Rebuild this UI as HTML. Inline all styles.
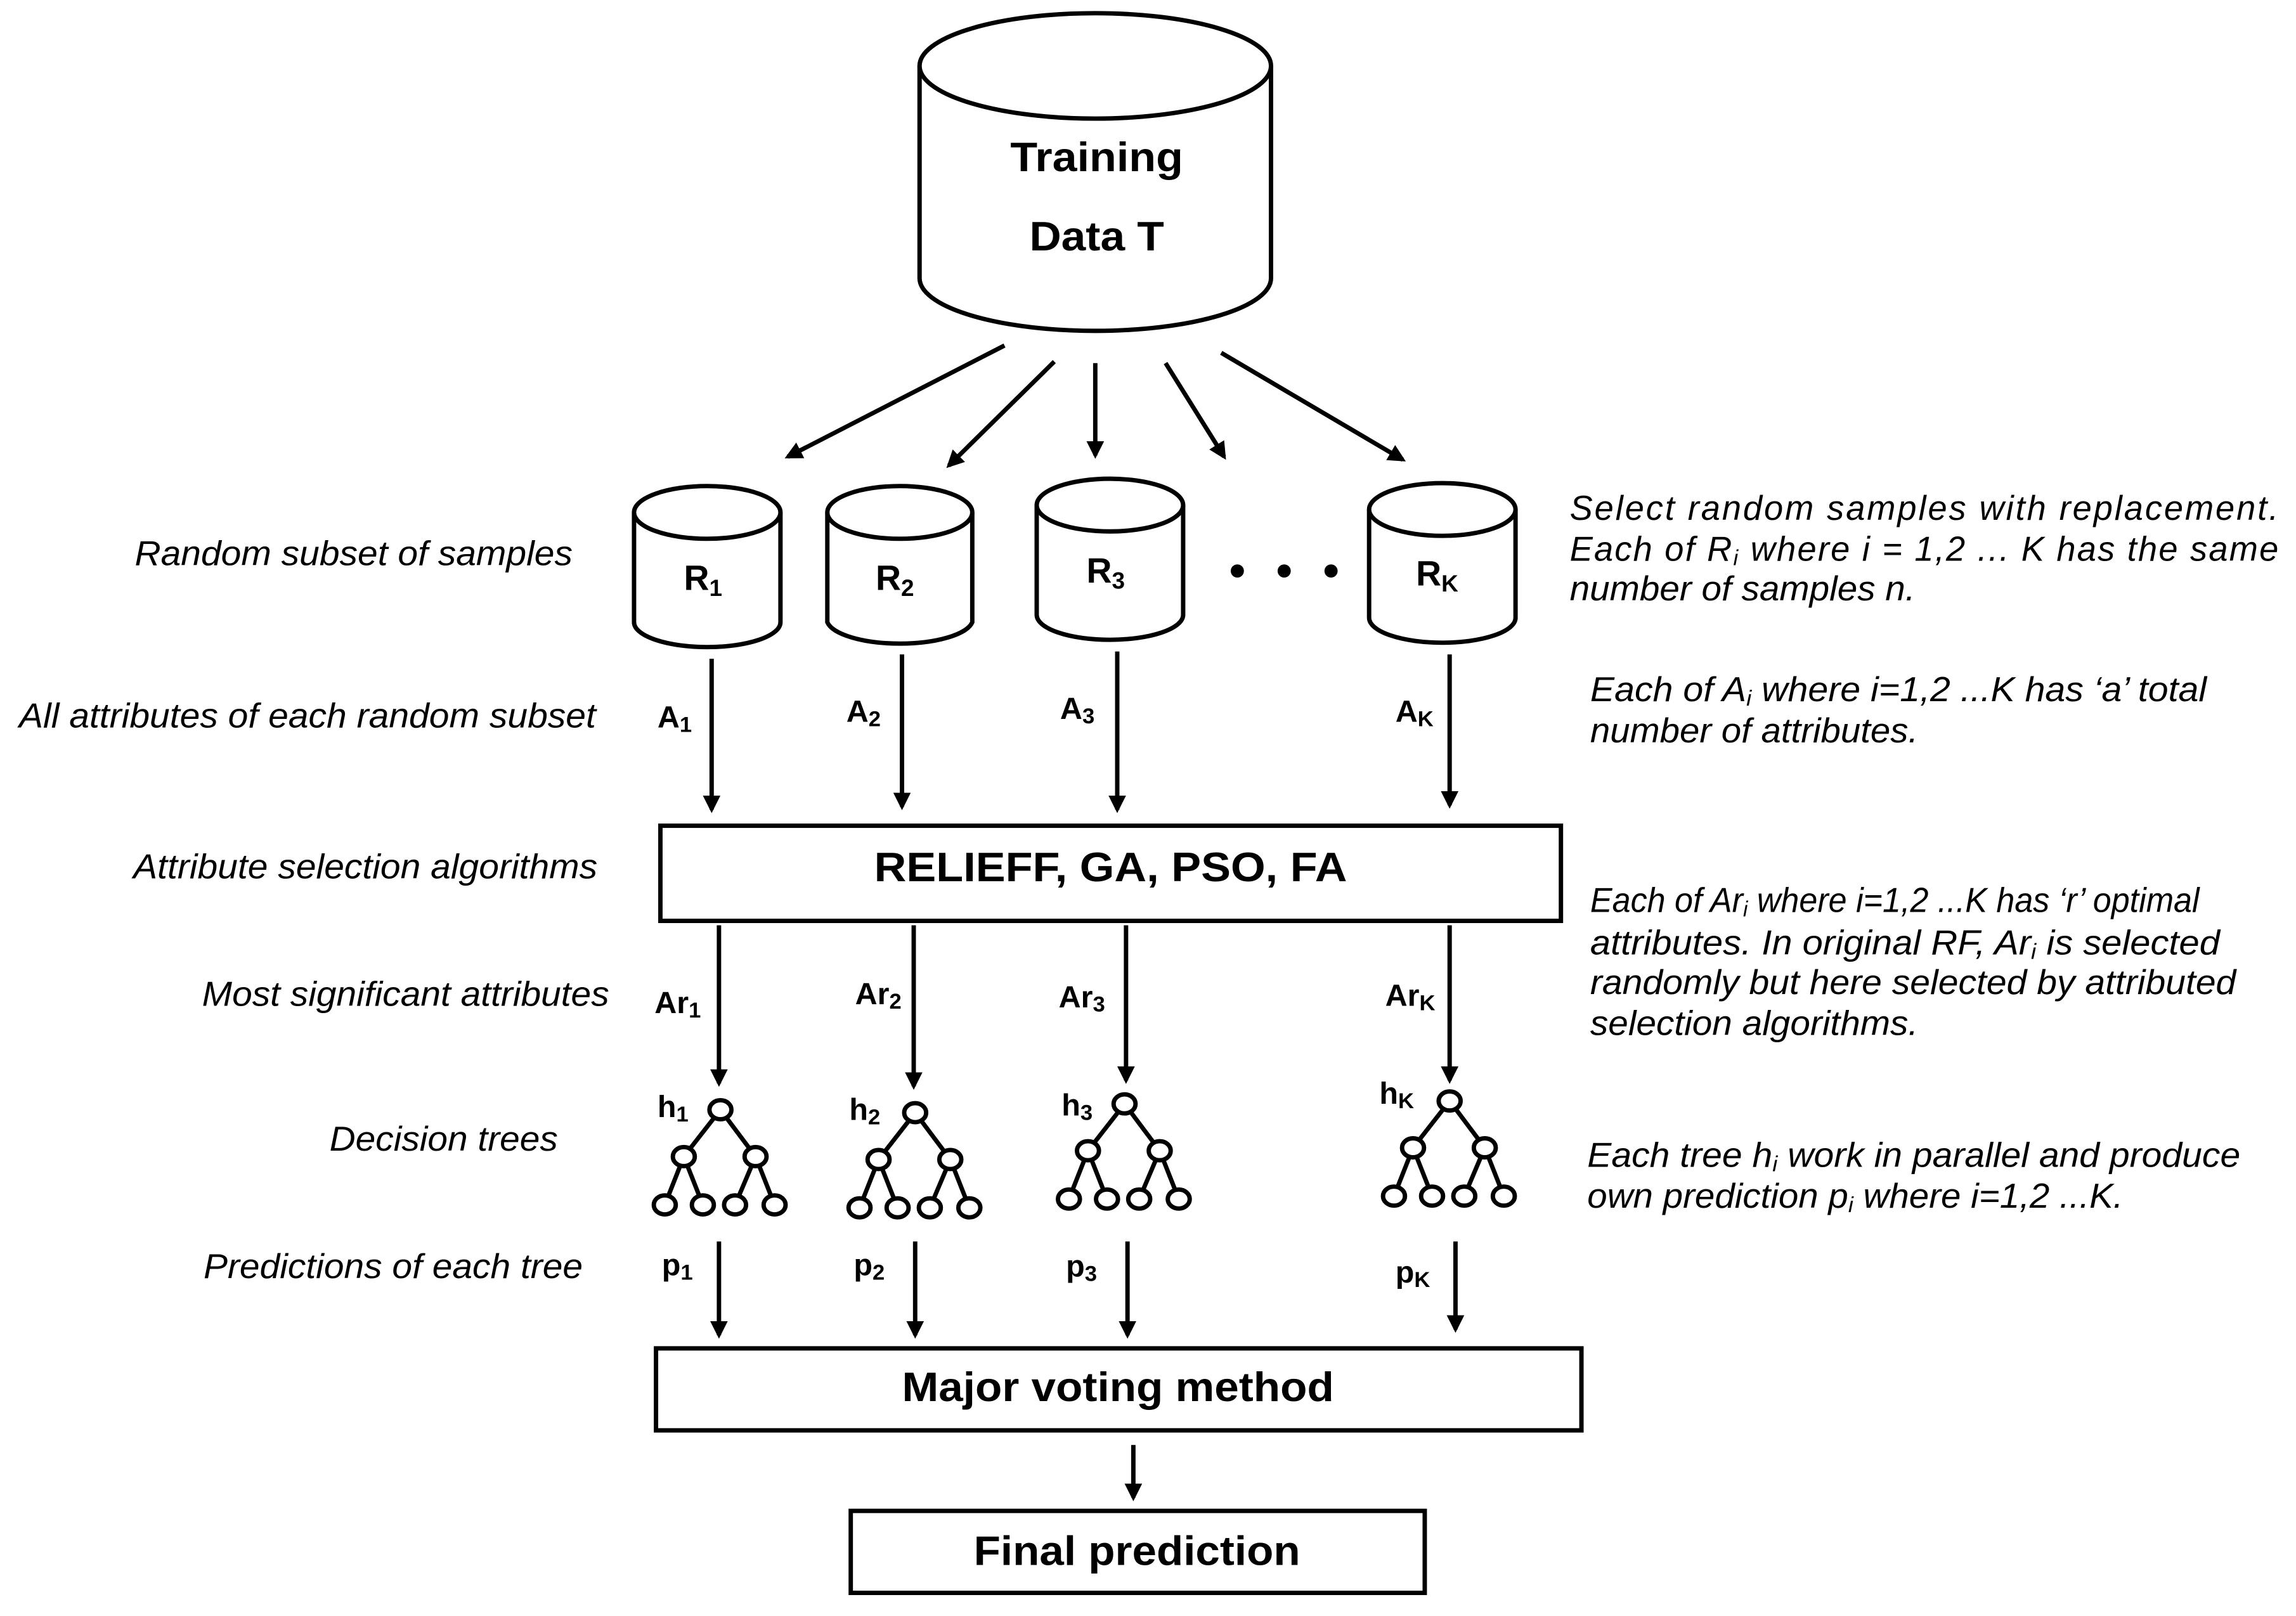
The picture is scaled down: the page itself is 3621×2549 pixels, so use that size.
<!DOCTYPE html>
<html><head><meta charset="utf-8"><style>html,body{margin:0;padding:0;background:#fff}svg{display:block}</style></head>
<body>
<svg width="3621" height="2549" viewBox="0 0 1568 1103.8" preserveAspectRatio="none" xmlns="http://www.w3.org/2000/svg" font-family="Liberation Sans, Arial, sans-serif">
<defs>
<marker id="ah" markerWidth="4" markerHeight="4" refX="3.2" refY="2" orient="auto" markerUnits="strokeWidth">
<path d="M0,0 L4,2 L0,4 z" fill="#000"/></marker>
<g id="tree" fill="#fff" stroke="#000" stroke-width="3">
<line x1="0" y1="0" x2="-25" y2="32"/><line x1="0" y1="0" x2="24" y2="32"/>
<line x1="-25" y1="32" x2="-38" y2="65"/><line x1="-25" y1="32" x2="-12" y2="65"/>
<line x1="24" y1="32" x2="10" y2="65"/><line x1="24" y1="32" x2="37" y2="65"/>
<ellipse cx="0" cy="0" rx="7.5" ry="6.5"/>
<ellipse cx="-25" cy="32" rx="7.5" ry="6.5"/><ellipse cx="24" cy="32" rx="7.5" ry="6.5"/>
<ellipse cx="-38" cy="65" rx="7.5" ry="6.5"/><ellipse cx="-12" cy="65" rx="7.5" ry="6.5"/>
<ellipse cx="10" cy="65" rx="7.5" ry="6.5"/><ellipse cx="37" cy="65" rx="7.5" ry="6.5"/>
</g>
</defs>
<rect width="1568" height="1104" fill="#fff"/>
<g fill="#fff" stroke="#000" stroke-width="3">
<path d="M628,45 L628,190 A120,36 0 0 0 868,190 L868,45"/>
<ellipse cx="748" cy="45" rx="120" ry="36"/>
<path d="M433,350 L433,425 A50,17 0 0 0 533,425 L533,350"/><ellipse cx="483" cy="350" rx="50" ry="18"/>
<path d="M565,350 L565,425 A50,17 0 0 0 664,425 L664,350"/><ellipse cx="614.5" cy="350" rx="49.5" ry="18"/>
<path d="M708,345 L708,420 A50,17 0 0 0 808,420 L808,345"/><ellipse cx="758" cy="345" rx="50" ry="18"/>
<path d="M935,348 L935,422 A50,17 0 0 0 1035,422 L1035,348"/><ellipse cx="985" cy="348" rx="50" ry="18"/>
<rect x="451" y="564" width="615" height="65"/>
<rect x="448" y="921" width="632" height="56"/>
<rect x="581" y="1032" width="392" height="56"/>
</g>
<g stroke="#000" stroke-width="3" marker-end="url(#ah)">
<line x1="686" y1="236" x2="538" y2="312"/><line x1="720" y1="247" x2="648" y2="318"/>
<line x1="748" y1="248" x2="748" y2="311"/><line x1="796" y1="248" x2="836" y2="312"/>
<line x1="834" y1="241" x2="958" y2="314"/>
<line x1="486" y1="450" x2="486" y2="553"/><line x1="616" y1="447" x2="616" y2="551"/>
<line x1="763" y1="445" x2="763" y2="553"/><line x1="990" y1="447" x2="990" y2="550"/>
<line x1="491" y1="632" x2="491" y2="740"/><line x1="624" y1="632" x2="624" y2="742"/>
<line x1="769" y1="632" x2="769" y2="738"/><line x1="990" y1="632" x2="990" y2="738"/>
<line x1="491" y1="848" x2="491" y2="912"/><line x1="625" y1="848" x2="625" y2="912"/>
<line x1="770" y1="848" x2="770" y2="912"/><line x1="994" y1="848" x2="994" y2="908"/>
<line x1="774" y1="987" x2="774" y2="1023"/>
</g>
<circle cx="845" cy="390" r="4.5"/><circle cx="877" cy="390" r="4.5"/><circle cx="909" cy="390" r="4.5"/>
<use href="#tree" x="492" y="758"/><use href="#tree" x="625" y="760"/><use href="#tree" x="768" y="754"/><use href="#tree" x="990" y="752"/>
<g font-weight="bold" font-size="28">
<text x="690" y="117" textLength="118" lengthAdjust="spacingAndGlyphs">Training</text>
<text x="703" y="171" textLength="92" lengthAdjust="spacingAndGlyphs">Data T</text>
<text x="597" y="602" textLength="323" lengthAdjust="spacingAndGlyphs">RELIEFF, GA, PSO, FA</text>
<text x="616" y="957" textLength="295" lengthAdjust="spacingAndGlyphs">Major voting method</text>
<text x="665" y="1069" textLength="223" lengthAdjust="spacingAndGlyphs">Final prediction</text>
</g>
<g font-weight="bold" font-size="24">
<text x="467" y="403">R<tspan font-size="16" dy="4">1</tspan></text>
<text x="598" y="403">R<tspan font-size="16" dy="4">2</tspan></text>
<text x="742" y="398">R<tspan font-size="16" dy="4">3</tspan></text>
<text x="967" y="400">R<tspan font-size="16" dy="4">K</tspan></text>
</g>
<g font-weight="bold" font-size="21">
<text x="449" y="497">A<tspan font-size="15" dy="3">1</tspan></text>
<text x="578" y="493">A<tspan font-size="15" dy="3">2</tspan></text>
<text x="724" y="491">A<tspan font-size="15" dy="3">3</tspan></text>
<text x="953" y="493">A<tspan font-size="15" dy="3">K</tspan></text>
<text x="447" y="692">Ar<tspan font-size="15" dy="3">1</tspan></text>
<text x="584" y="686">Ar<tspan font-size="15" dy="3">2</tspan></text>
<text x="723" y="688">Ar<tspan font-size="15" dy="3">3</tspan></text>
<text x="946" y="687">Ar<tspan font-size="15" dy="3">K</tspan></text>
<text x="449" y="763">h<tspan font-size="15" dy="3">1</tspan></text>
<text x="580" y="765">h<tspan font-size="15" dy="3">2</tspan></text>
<text x="725" y="762">h<tspan font-size="15" dy="3">3</tspan></text>
<text x="942" y="754">h<tspan font-size="15" dy="3">K</tspan></text>
<text x="452" y="871">p<tspan font-size="15" dy="3">1</tspan></text>
<text x="583" y="871">p<tspan font-size="15" dy="3">2</tspan></text>
<text x="728" y="872">p<tspan font-size="15" dy="3">3</tspan></text>
<text x="953" y="876">p<tspan font-size="15" dy="3">K</tspan></text>
</g>
<g font-style="italic" font-size="23.5">
<text x="92" y="386" textLength="299" lengthAdjust="spacingAndGlyphs">Random subset of samples</text>
<text x="13" y="497" textLength="394" lengthAdjust="spacingAndGlyphs">All attributes of each random subset</text>
<text x="91" y="600" textLength="317" lengthAdjust="spacingAndGlyphs">Attribute selection algorithms</text>
<text x="138" y="687" textLength="278" lengthAdjust="spacingAndGlyphs">Most significant attributes</text>
<text x="225" y="786" textLength="156" lengthAdjust="spacingAndGlyphs">Decision trees</text>
<text x="139" y="873" textLength="259" lengthAdjust="spacingAndGlyphs">Predictions of each tree</text>
<text x="1072" y="355" textLength="484" lengthAdjust="spacing">Select random samples with replacement.</text>
<text x="1072" y="383" textLength="484" lengthAdjust="spacing">Each of R<tspan font-size="15" dy="3">i</tspan><tspan dy="-3"> where i = 1,2 ... K has the same</tspan></text>
<text x="1072" y="410" textLength="236" lengthAdjust="spacingAndGlyphs">number of samples n.</text>
<text x="1086" y="479" textLength="421" lengthAdjust="spacingAndGlyphs">Each of A<tspan font-size="15" dy="3">i</tspan><tspan dy="-3"> where i=1,2 ...K has ‘a’ total</tspan></text>
<text x="1086" y="507" textLength="224" lengthAdjust="spacingAndGlyphs">number of attributes.</text>
<text x="1086" y="623" textLength="416" lengthAdjust="spacingAndGlyphs">Each of Ar<tspan font-size="15" dy="3">i</tspan><tspan dy="-3"> where i=1,2 ...K has ‘r’ optimal</tspan></text>
<text x="1086" y="652" textLength="430" lengthAdjust="spacingAndGlyphs">attributes. In original RF, Ar<tspan font-size="15" dy="3">i</tspan><tspan dy="-3"> is selected</tspan></text>
<text x="1086" y="679" textLength="441" lengthAdjust="spacingAndGlyphs">randomly but here selected by attributed</text>
<text x="1086" y="707" textLength="224" lengthAdjust="spacingAndGlyphs">selection algorithms.</text>
<text x="1084" y="797" textLength="446" lengthAdjust="spacingAndGlyphs">Each tree h<tspan font-size="15" dy="3">i</tspan><tspan dy="-3"> work in parallel and produce</tspan></text>
<text x="1084" y="825" textLength="366" lengthAdjust="spacingAndGlyphs">own prediction p<tspan font-size="15" dy="3">i</tspan><tspan dy="-3"> where i=1,2 ...K.</tspan></text>
</g>
</svg>
</body></html>
